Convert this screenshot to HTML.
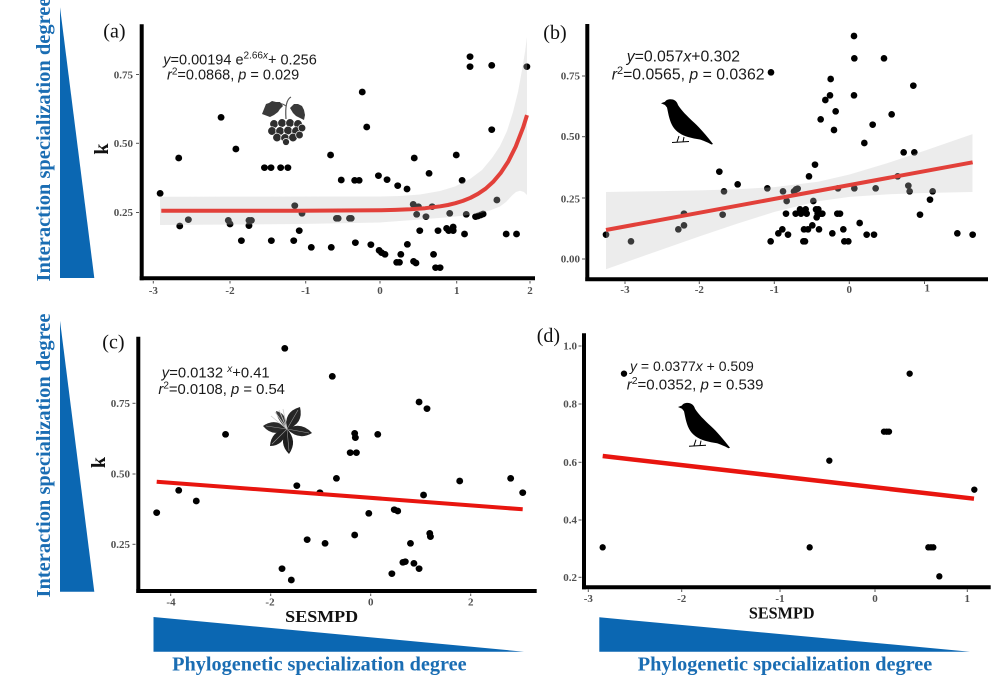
<!DOCTYPE html>
<html>
<head>
<meta charset="utf-8">
<style>
html,body{margin:0;padding:0;background:#fff;}
svg{display:block;}
.tk{font-family:"Liberation Serif",serif;font-weight:bold;font-size:11px;fill:#505050;}
.eq{font-family:"Liberation Sans",sans-serif;fill:#1a1a1a;}
.pl{font-family:"Liberation Serif",serif;font-size:20px;fill:#111;}
.ax{font-family:"Liberation Serif",serif;font-weight:bold;fill:#111;}
.bl{font-family:"Liberation Serif",serif;font-weight:bold;fill:#1a6db3;font-size:20.5px;}
</style>
</head>
<body>
<svg width="1000" height="678" viewBox="0 0 1000 678" xmlns="http://www.w3.org/2000/svg">
<rect width="1000" height="678" fill="#fff"/>

<!-- Left triangles & vertical labels -->
<polygon points="60,7.3 60,278 94.3,278" fill="#0b67b2"/>
<polygon points="60,320.7 60,591.7 94.3,591.7" fill="#0b67b2"/>
<text class="bl" transform="translate(50,139.5) rotate(-90)" text-anchor="middle" textLength="284" lengthAdjust="spacingAndGlyphs">Interaction specialization degree</text>
<text class="bl" transform="translate(50,455.5) rotate(-90)" text-anchor="middle" textLength="284" lengthAdjust="spacingAndGlyphs">Interaction specialization degree</text>

<!-- Bottom triangles & labels -->
<polygon points="153.5,617 153.5,651.7 524,651.7" fill="#0b67b2"/>
<polygon points="599.3,617.3 599.3,651.7 970,651.7" fill="#0b67b2"/>
<text class="bl" x="319.4" y="670.5" text-anchor="middle" textLength="294.5" lengthAdjust="spacingAndGlyphs" style="font-size:20.3px">Phylogenetic specialization degree</text>
<text class="bl" x="785" y="670.5" text-anchor="middle" textLength="294.5" lengthAdjust="spacingAndGlyphs" style="font-size:20.3px">Phylogenetic specialization degree</text>

<!-- ================= PANEL A ================= -->
<text class="pl" x="103.3" y="37.5">(a)</text>
<text class="ax" transform="translate(108,149) rotate(-90)" text-anchor="middle" font-size="20">k</text>
<g class="tk" text-anchor="end">
<text x="133" y="78.5">0.75</text>
<text x="133" y="147">0.50</text>
<text x="133" y="216">0.25</text>
</g>
<g class="tk" text-anchor="middle">
<text x="153.3" y="294">-3</text>
<text x="230" y="294">-2</text>
<text x="305.7" y="294">-1</text>
<text x="380" y="294">0</text>
<text x="456.7" y="294">1</text>
<text x="530" y="294">2</text>
</g>
<g stroke="#555" stroke-width="1">
<line x1="136" y1="74.5" x2="139" y2="74.5"/><line x1="136" y1="143.3" x2="139" y2="143.3"/><line x1="136" y1="212.5" x2="139" y2="212.5"/>
<line x1="153.3" y1="281" x2="153.3" y2="283.5"/><line x1="230" y1="281" x2="230" y2="283.5"/><line x1="305.7" y1="281" x2="305.7" y2="283.5"/><line x1="380" y1="281" x2="380" y2="283.5"/><line x1="456.7" y1="281" x2="456.7" y2="283.5"/><line x1="530" y1="281" x2="530" y2="283.5"/>
</g>
<g transform="scale(0.34435,0.33333)" fill="#000">
<circle cx="465" cy="580" r="10"/><circle cx="519" cy="474" r="10"/><circle cx="522" cy="678" r="10"/><circle cx="547" cy="659" r="10"/><circle cx="642" cy="352" r="10"/><circle cx="663" cy="661" r="10"/><circle cx="668" cy="672" r="10"/><circle cx="685" cy="447" r="10"/><circle cx="701" cy="722" r="10"/><circle cx="723" cy="677" r="10"/><circle cx="723" cy="661" r="10"/><circle cx="730" cy="661" r="10"/><circle cx="768" cy="503" r="10"/><circle cx="787" cy="503" r="10"/><circle cx="788" cy="722" r="10"/><circle cx="815" cy="503" r="10"/><circle cx="836" cy="503" r="10"/><circle cx="853" cy="722" r="10"/><circle cx="856" cy="617" r="10"/><circle cx="869" cy="692" r="10"/><circle cx="877" cy="640" r="10"/><circle cx="904" cy="742" r="10"/><circle cx="960" cy="465" r="10"/><circle cx="962" cy="742" r="10"/><circle cx="977" cy="655" r="10"/><circle cx="982" cy="655" r="10"/><circle cx="991" cy="540" r="10"/><circle cx="1015" cy="655" r="10"/><circle cx="1020" cy="655" r="10"/><circle cx="1030" cy="541" r="10"/><circle cx="1043" cy="541" r="10"/><circle cx="1032" cy="728" r="10"/><circle cx="1052" cy="276" r="10"/><circle cx="1065" cy="381" r="10"/><circle cx="1077" cy="734" r="10"/><circle cx="1099" cy="527" r="10"/><circle cx="1101" cy="751" r="10"/><circle cx="1108" cy="758" r="10"/><circle cx="1118" cy="763" r="10"/><circle cx="1124" cy="539" r="10"/><circle cx="1152" cy="787" r="10"/><circle cx="1160" cy="787" r="10"/><circle cx="1155" cy="557" r="10"/><circle cx="1164" cy="763" r="10"/><circle cx="1182" cy="567" r="10"/><circle cx="1183" cy="733" r="10"/><circle cx="1200" cy="613" r="10"/><circle cx="1203" cy="474" r="10"/><circle cx="1201" cy="784" r="10"/><circle cx="1208" cy="789" r="10"/><circle cx="1210" cy="643" r="10"/><circle cx="1215" cy="620" r="10"/><circle cx="1219" cy="692" r="10"/><circle cx="1237" cy="650" r="10"/><circle cx="1246" cy="520" r="10"/><circle cx="1255" cy="620" r="10"/><circle cx="1259" cy="763" r="10"/><circle cx="1265" cy="803" r="10"/><circle cx="1278" cy="803" r="10"/><circle cx="1272" cy="692" r="10"/><circle cx="1297" cy="685" r="10"/><circle cx="1303" cy="692" r="10"/><circle cx="1306" cy="640" r="10"/><circle cx="1316" cy="681" r="10"/><circle cx="1316" cy="692" r="10"/><circle cx="1325" cy="465" r="10"/><circle cx="1342" cy="541" r="10"/><circle cx="1349" cy="702" r="10"/><circle cx="1354" cy="643" r="10"/><circle cx="1365" cy="170" r="10"/><circle cx="1365" cy="200" r="10"/><circle cx="1381" cy="650" r="10"/><circle cx="1388" cy="648" r="10"/><circle cx="1396" cy="645" r="10"/><circle cx="1403" cy="642" r="10"/><circle cx="1428" cy="196" r="10"/><circle cx="1428" cy="389" r="10"/><circle cx="1443" cy="600" r="10"/><circle cx="1470" cy="702" r="10"/><circle cx="1500" cy="702" r="10"/><circle cx="1530" cy="200" r="10"/>
</g>
<!-- band a -->
<path d="M160,196.7 L380,196.5 L400,196 L420,194.5 L440,191 L455,186.5 L470,179 L482,170 L492,158 L500,146 L507,131 L513,112 L518,92 L522,70 L525,52 L527,37 L527,195 L524,192 L520,190.8 L516,192 L512,195.5 L506,202 L500,206.5 L490,210.5 L478,213.5 L463,215.8 L445,217.5 L420,219.5 L380,222.5 L300,224 L160,225 Z" fill="#c0c0c0" fill-opacity="0.3"/>
<polyline points="161.3,210.8 300,210.7 380,210.3 395.1,209.9 410.2,209.3 425.2,208.2 440.3,206.3 447.9,205 455.4,203.2 462.9,200.9 470.5,197.8 478,193.8 485.6,188.7 493.1,181.9 500.6,173.1 508.2,161.6 515.7,146.6 523.3,127 527,115.1" fill="none" stroke="#e2403a" stroke-width="4" stroke-linejoin="round" stroke-linecap="butt"/>
<!-- axes a -->
<line x1="141.7" y1="24.3" x2="141.7" y2="280.3" stroke="#000" stroke-width="4"/>
<line x1="139.7" y1="278.3" x2="535" y2="278.3" stroke="#000" stroke-width="4"/>
<!-- equation a -->
<text class="eq" x="163.3" y="64.3" font-size="14.5"><tspan font-style="italic">y</tspan>=0.00194 e<tspan dy="-6" font-size="10">2.66</tspan><tspan font-size="10" font-style="italic">x</tspan><tspan dy="6">+ 0.256</tspan></text>
<text class="eq" x="167" y="79.3" font-size="14.5"><tspan font-style="italic">r</tspan><tspan dy="-5" font-size="10">2</tspan><tspan dy="5">=0.0868, </tspan><tspan font-style="italic">p</tspan> = 0.029</text>
<!-- berry icon -->
<g>
<path d="M291,97 C287,99 285,106 286,119" fill="none" stroke="#555" stroke-width="1.2"/>
<path d="M286,106 C282,103 279,103 276,105" fill="none" stroke="#555" stroke-width="1"/>
<path d="M262,114 L264,109 L266,104 L269,103 L272,101 L276,102 L280,102 L283,106 L280,109 L278,112 L274,115 L270,117 Z" fill="#3a3a3a"/>
<path d="M290,108 L294,104 L298,104 L302,106 L304,110 L305,115 L304,120 L300,118 L296,116 L293,113 Z" fill="#3a3a3a"/>
<g fill="#2e2e2e" stroke="#fff" stroke-width="0.7">
<circle cx="274" cy="124" r="4.3"/><circle cx="282" cy="123" r="4.3"/><circle cx="290" cy="123" r="4.3"/><circle cx="298" cy="124" r="4.3"/>
<circle cx="272" cy="131" r="4.3"/><circle cx="280" cy="131" r="4.3"/><circle cx="288" cy="130.5" r="4.3"/><circle cx="296" cy="131" r="4.3"/><circle cx="302" cy="128" r="3.8"/>
<circle cx="277" cy="137.5" r="4.3"/><circle cx="285" cy="138" r="4.3"/><circle cx="293" cy="137.5" r="4.3"/><circle cx="299.5" cy="135" r="3.8"/>
<circle cx="286" cy="142" r="3.5"/>
</g>
</g>

<!-- ================= PANEL B ================= -->
<text class="pl" x="543.3" y="39">(b)</text>
<g class="tk" text-anchor="end">
<text x="580" y="79.5">0.75</text>
<text x="580" y="140">0.50</text>
<text x="580" y="202.5">0.25</text>
<text x="580" y="262.5">0.00</text>
</g>
<g class="tk" text-anchor="middle">
<text x="625" y="293">-3</text>
<text x="699.3" y="293">-2</text>
<text x="774.3" y="293">-1</text>
<text x="849.3" y="293">0</text>
<text x="927.3" y="291.5">1</text>
</g>
<g stroke="#555" stroke-width="1">
<line x1="582" y1="76" x2="585" y2="76"/><line x1="582" y1="136.7" x2="585" y2="136.7"/><line x1="582" y1="198" x2="585" y2="198"/><line x1="582" y1="259" x2="585" y2="259"/>
<line x1="625" y1="281.5" x2="625" y2="284"/><line x1="699.3" y1="281.5" x2="699.3" y2="284"/><line x1="774.3" y1="281.5" x2="774.3" y2="284"/><line x1="849.3" y1="281.5" x2="849.3" y2="284"/><line x1="924.5" y1="281.5" x2="924.5" y2="284"/>
</g>
<g transform="translate(500,0) scale(0.33333)" fill="#000">
<circle cx="318" cy="704" r="10"/><circle cx="393" cy="724" r="10"/><circle cx="535" cy="688" r="10"/><circle cx="552" cy="676" r="10"/><circle cx="552" cy="641" r="10"/><circle cx="658" cy="515" r="10"/><circle cx="668" cy="644" r="10"/><circle cx="672" cy="574" r="10"/><circle cx="713" cy="553" r="10"/><circle cx="802" cy="565" r="10"/><circle cx="812" cy="724" r="10"/><circle cx="813" cy="217" r="10"/><circle cx="835" cy="700" r="10"/><circle cx="847" cy="688" r="10"/><circle cx="849" cy="574" r="10"/><circle cx="858" cy="641" r="10"/><circle cx="860" cy="603" r="10"/><circle cx="864" cy="704" r="10"/><circle cx="882" cy="574" r="10"/><circle cx="888" cy="568" r="10"/><circle cx="893" cy="566" r="10"/><circle cx="887" cy="641" r="10"/><circle cx="900" cy="628" r="10"/><circle cx="903" cy="641" r="10"/><circle cx="910" cy="724" r="10"/><circle cx="912" cy="688" r="10"/><circle cx="915" cy="724" r="10"/><circle cx="917" cy="628" r="10"/><circle cx="920" cy="641" r="10"/><circle cx="924" cy="688" r="10"/><circle cx="927" cy="529" r="10"/><circle cx="937" cy="676" r="10"/><circle cx="940" cy="603" r="10"/><circle cx="945" cy="494" r="10"/><circle cx="948" cy="628" r="10"/><circle cx="950" cy="652" r="10"/><circle cx="953" cy="641" r="10"/><circle cx="955" cy="628" r="10"/><circle cx="957" cy="688" r="10"/><circle cx="962" cy="641" r="10"/><circle cx="967" cy="641" r="10"/><circle cx="962" cy="358" r="10"/><circle cx="976" cy="300" r="10"/><circle cx="990" cy="286" r="10"/><circle cx="992" cy="237" r="10"/><circle cx="997" cy="700" r="10"/><circle cx="1002" cy="390" r="10"/><circle cx="1007" cy="334" r="10"/><circle cx="1012" cy="641" r="10"/><circle cx="1014" cy="565" r="10"/><circle cx="1020" cy="641" r="10"/><circle cx="1030" cy="688" r="10"/><circle cx="1033" cy="724" r="10"/><circle cx="1045" cy="724" r="10"/><circle cx="1062" cy="108" r="10"/><circle cx="1063" cy="175" r="10"/><circle cx="1062" cy="286" r="10"/><circle cx="1063" cy="565" r="10"/><circle cx="1079" cy="669" r="10"/><circle cx="1093" cy="429" r="10"/><circle cx="1100" cy="704" r="10"/><circle cx="1118" cy="374" r="10"/><circle cx="1122" cy="704" r="10"/><circle cx="1127" cy="565" r="10"/><circle cx="1152" cy="175" r="10"/><circle cx="1175" cy="343" r="10"/><circle cx="1193" cy="529" r="10"/><circle cx="1211" cy="457" r="10"/><circle cx="1225" cy="557" r="10"/><circle cx="1229" cy="574" r="10"/><circle cx="1240" cy="257" r="10"/><circle cx="1243" cy="457" r="10"/><circle cx="1260" cy="644" r="10"/><circle cx="1290" cy="599" r="10"/><circle cx="1298" cy="574" r="10"/><circle cx="1372" cy="700" r="10"/><circle cx="1418" cy="704" r="10"/>
<path d="M318,576 L486,573.4 L598.5,571 L711,567.6 L823.5,561.5 L954,545.4 L1048.5,523.6 L1161,489.7 L1273.5,452.2 L1417.5,402.3 L1417.5,575.9 L1273.5,579.1 L1161,583.1 L1048.5,590.7 L954,603.7 L823.5,635.8 L711,671.2 L598.5,709.2 L486,748.4 L318,807.6 Z" fill="#c0c0c0" fill-opacity="0.3"/>
<line x1="318" y1="690" x2="1418" y2="487" stroke="#e2403a" stroke-width="12"/>
</g>
<line x1="587.3" y1="24" x2="587.3" y2="281" stroke="#000" stroke-width="4"/>
<line x1="585.3" y1="279.3" x2="988" y2="279.3" stroke="#000" stroke-width="4"/>
<text class="eq" x="626.7" y="61.7" font-size="15.8"><tspan font-style="italic">y</tspan>=0.057<tspan font-style="italic">x</tspan>+0.302</text>
<text class="eq" x="611.7" y="79.3" font-size="15.8"><tspan font-style="italic">r</tspan><tspan dy="-5.5" font-size="11">2</tspan><tspan dy="5.5">=0.0565, </tspan><tspan font-style="italic">p</tspan> = 0.0362</text>
<!-- bird b -->
<g transform="translate(661,99)">
<path d="M0,4.3 L4,2.8 C5,0.5 9,-0.3 12,0.5 C15,1.5 16.5,4 17,6 C20,11 26,17 33,23.5 C39,29 45,36 52,45 L50.5,45.5 C46,43 42,41.5 39,40.5 C35,40 31,39 27,38 C20,36 14,32 11,26 C8,20 7,13 6,8.5 L4,6 Z" fill="#000"/>
<path d="M18,37 L16,43 M23,38 L22,43 M11,43.5 L28,42.5" stroke="#000" stroke-width="1" fill="none"/>
</g>

<!-- ================= PANEL C ================= -->
<text class="pl" x="102.3" y="348.5">(c)</text>
<text class="ax" transform="translate(105,462.5) rotate(-90)" text-anchor="middle" font-size="20">k</text>
<g class="tk" text-anchor="end">
<text x="130" y="406.8">0.75</text>
<text x="130" y="477.5">0.50</text>
<text x="130" y="547.8">0.25</text>
</g>
<g class="tk" text-anchor="middle">
<text x="171" y="605.5">-4</text>
<text x="270" y="605.5">-2</text>
<text x="370.7" y="605.5">0</text>
<text x="470.7" y="605.5">2</text>
</g>
<g stroke="#555" stroke-width="1">
<line x1="132.5" y1="403.3" x2="135.5" y2="403.3"/><line x1="132.5" y1="474" x2="135.5" y2="474"/><line x1="132.5" y1="544.3" x2="135.5" y2="544.3"/>
<line x1="170.7" y1="593.5" x2="170.7" y2="596"/><line x1="270.7" y1="593.5" x2="270.7" y2="596"/><line x1="370.7" y1="593.5" x2="370.7" y2="596"/><line x1="470.7" y1="593.5" x2="470.7" y2="596"/>
</g>
<g transform="translate(0,300) scale(0.34435,0.33333)" fill="#000">
<circle cx="455" cy="638" r="10"/><circle cx="519" cy="571" r="10"/><circle cx="570" cy="603" r="10"/><circle cx="655" cy="403" r="10"/><circle cx="819" cy="806" r="10"/><circle cx="827" cy="145" r="10"/><circle cx="846" cy="840" r="10"/><circle cx="862" cy="557" r="10"/><circle cx="892" cy="719" r="10"/><circle cx="929" cy="578" r="10"/><circle cx="944" cy="730" r="10"/><circle cx="965" cy="229" r="10"/><circle cx="977" cy="535" r="10"/><circle cx="1017" cy="458" r="10"/><circle cx="1030" cy="400" r="10"/><circle cx="1032" cy="413" r="10"/><circle cx="1035" cy="458" r="10"/><circle cx="1030" cy="705" r="10"/><circle cx="1071" cy="640" r="10"/><circle cx="1097" cy="403" r="10"/><circle cx="1138" cy="821" r="10"/><circle cx="1145" cy="629" r="10"/><circle cx="1155" cy="633" r="10"/><circle cx="1170" cy="787" r="10"/><circle cx="1177" cy="785" r="10"/><circle cx="1192" cy="730" r="10"/><circle cx="1202" cy="790" r="10"/><circle cx="1217" cy="306" r="10"/><circle cx="1217" cy="806" r="10"/><circle cx="1230" cy="585" r="10"/><circle cx="1240" cy="326" r="10"/><circle cx="1248" cy="700" r="10"/><circle cx="1250" cy="710" r="10"/><circle cx="1335" cy="543" r="10"/><circle cx="1483" cy="535" r="10"/><circle cx="1518" cy="578" r="10"/>
</g>
<line x1="156.7" y1="481.7" x2="522.7" y2="509.3" stroke="#e8150f" stroke-width="4"/>
<line x1="138.3" y1="336.7" x2="138.3" y2="593" stroke="#000" stroke-width="4"/>
<line x1="136.3" y1="591" x2="536.7" y2="591" stroke="#000" stroke-width="4"/>
<text class="eq" x="161.8" y="377.3" font-size="14.8"><tspan font-style="italic">y</tspan>=0.0132 <tspan dy="-5.5" font-size="10" font-style="italic">x</tspan><tspan dy="5.5">+0.41</tspan></text>
<text class="eq" x="158.4" y="394" font-size="14.8"><tspan font-style="italic">r</tspan><tspan dy="-5.5" font-size="10">2</tspan><tspan dy="5.5">=0.0108, </tspan><tspan font-style="italic">p</tspan> = 0.54</text>
<!-- lily icon -->
<g>
<path d="M287,429 Q304,424 300,407 Q283,412 287,429 Z" fill="#262626"/>
<path d="M287,429 Q276,417 263,426 Q273,438 287,429 Z" fill="#2a2a2a"/>
<path d="M287,429 Q299,441 312,433 Q301,421 287,429 Z" fill="#262626"/>
<path d="M287,429 Q278,443 289,454 Q298,441 287,429 Z" fill="#1e1e1e"/>
<path d="M287,429 Q284,446 270,446 Q271,431 287,429 Z" fill="#222"/>
<path d="M287,429 Q277,420 276,411 Q287,413 287,429 Z" fill="#3a3a3a"/>
<g stroke="#999" stroke-width="0.6" fill="none">
<path d="M287,429 L298,410 M287,429 L266,426 M287,429 L309,433 M287,429 L289,451 M287,429 L272,444"/>
</g>
<g stroke="#ccc" stroke-width="0.8" fill="none">
<path d="M287,429 L275,412 M287,429 L279,410 M287,429 L283,409 M287,429 L271,416"/>
</g>
</g>

<!-- ================= PANEL D ================= -->
<text class="pl" x="536.7" y="342">(d)</text>
<g class="tk" text-anchor="end">
<text x="577" y="349.5">1.0</text>
<text x="577" y="407.5">0.8</text>
<text x="577" y="465.8">0.6</text>
<text x="577" y="523.5">0.4</text>
<text x="577" y="580.8">0.2</text>
</g>
<g class="tk" text-anchor="middle">
<text x="588.3" y="602">-3</text>
<text x="681.7" y="602">-2</text>
<text x="780" y="602">-1</text>
<text x="875" y="602">0</text>
<text x="967.3" y="602">1</text>
</g>
<g stroke="#555" stroke-width="1">
<line x1="578.5" y1="346" x2="581.5" y2="346"/><line x1="578.5" y1="404" x2="581.5" y2="404"/><line x1="578.5" y1="462.3" x2="581.5" y2="462.3"/><line x1="578.5" y1="520" x2="581.5" y2="520"/><line x1="578.5" y1="577.3" x2="581.5" y2="577.3"/>
<line x1="588.3" y1="589.5" x2="588.3" y2="592"/><line x1="681.7" y1="589.5" x2="681.7" y2="592"/><line x1="780" y1="589.5" x2="780" y2="592"/><line x1="875" y1="589.5" x2="875" y2="592"/><line x1="967.3" y1="589.5" x2="967.3" y2="592"/>
</g>
<g transform="translate(500,300) scale(0.33333)" fill="#000">
<circle cx="308" cy="742" r="9.5"/><circle cx="372" cy="221" r="9.5"/><circle cx="929" cy="742" r="9.5"/><circle cx="988" cy="482" r="9.5"/><circle cx="1152" cy="395" r="9.5"/><circle cx="1160" cy="395" r="9.5"/><circle cx="1167" cy="395" r="9.5"/><circle cx="1229" cy="221" r="9.5"/><circle cx="1285" cy="742" r="9.5"/><circle cx="1293" cy="742" r="9.5"/><circle cx="1300" cy="742" r="9.5"/><circle cx="1318" cy="829" r="9.5"/><circle cx="1423" cy="569" r="9.5"/>
</g>
<line x1="602.7" y1="456" x2="974" y2="498.7" stroke="#e8150f" stroke-width="4.5"/>
<line x1="584" y1="333.3" x2="584" y2="589.3" stroke="#000" stroke-width="4"/>
<line x1="582" y1="587.3" x2="990.7" y2="587.3" stroke="#000" stroke-width="4"/>
<text class="eq" x="630" y="371" font-size="14"><tspan font-style="italic">y</tspan> = 0.0377<tspan font-style="italic">x</tspan> + 0.509</text>
<text class="eq" x="626.7" y="389.3" font-size="15"><tspan font-style="italic">r</tspan><tspan dy="-5.5" font-size="10.5">2</tspan><tspan dy="5.5">=0.0352, </tspan><tspan font-style="italic">p</tspan> = 0.539</text>
<!-- bird d -->
<g transform="translate(678,402.7)">
<path d="M0,4.3 L4,2.8 C5,0.5 9,-0.3 12,0.5 C15,1.5 16.5,4 17,6 C20,11 26,17 33,23.5 C39,29 45,36 52,45 L50.5,45.5 C46,43 42,41.5 39,40.5 C35,40 31,39 27,38 C20,36 14,32 11,26 C8,20 7,13 6,8.5 L4,6 Z" fill="#000"/>
<path d="M18,37 L16,43 M23,38 L22,43 M11,43.5 L28,42.5" stroke="#000" stroke-width="1" fill="none"/>
</g>

<!-- x axis titles -->
<text class="ax" x="321.7" y="622" text-anchor="middle" font-size="17" textLength="73" lengthAdjust="spacingAndGlyphs">SESMPD</text>
<text class="ax" x="781.7" y="618.5" text-anchor="middle" font-size="17" textLength="65.7" lengthAdjust="spacingAndGlyphs">SESMPD</text>
</svg>
</body>
</html>
